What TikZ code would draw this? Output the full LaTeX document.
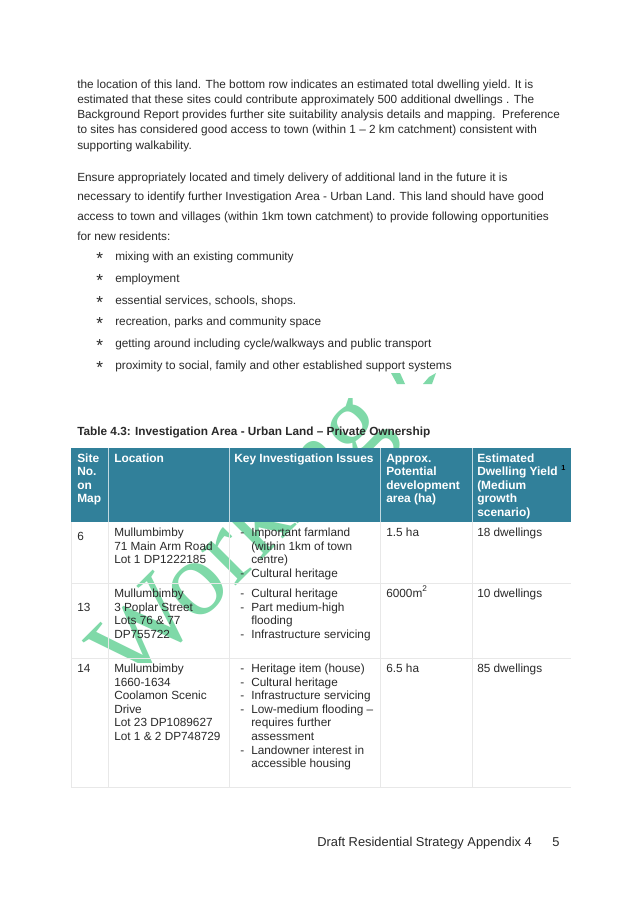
\documentclass[tikz,border=0pt]{standalone}
\usepackage{fontspec}
\setmainfont{Liberation Sans}
\newfontfamily\wmfont{Liberation Serif}
\definecolor{hdr}{HTML}{31809A}
\definecolor{ink}{HTML}{2A2A2A}
\definecolor{grid}{HTML}{E8E8E8}
\definecolor{wm}{HTML}{7FD9A8}
\tikzset{
 px/.style={x=0.75pt,y=-0.75pt},
 body/.style={anchor=base west,inner sep=0pt,font=\fontsize{8.85pt}{9pt}\selectfont,text=ink},
 cell/.style={anchor=base west,inner sep=0pt,font=\fontsize{8.85pt}{9pt}\selectfont,text=ink},
 head/.style={anchor=base west,inner sep=0pt,font=\fontsize{8.95pt}{9pt}\selectfont\bfseries,text=white},
 captiontext/.style={anchor=base west,inner sep=0pt,font=\fontsize{8.85pt}{9pt}\selectfont\bfseries,text=ink},
 foot/.style={anchor=base west,inner sep=0pt,font=\fontsize{9.65pt}{10pt}\selectfont,text=ink},
 starmark/.style={anchor=base west,inner sep=0pt,font=\fontsize{13pt}{13pt}\selectfont,text=ink},
 gridline/.style={draw=grid,line width=0.6pt},
 hline/.style={draw=white!70!hdr,line width=0.6pt},
 wmark/.style={inner sep=0pt,text=wm,font=\wmfont\fontsize{80pt}{80pt}\selectfont}
}
\begin{document}
\begin{tikzpicture}[px]
\useasboundingbox (0,0) rectangle (637,902);
\fill[white] (0,0) rectangle (637,902);
\begin{scope}
\clip (0,398) rectangle (637,662);
\node[wmark,rotate=45,anchor=base west] (wm) at (131,691) {Working};
\end{scope}
\fill[wm] (391,373) -- (400,373) -- (405,384) -- (397,384) -- cycle;
\fill[wm] (423,384) -- (429,377) -- (436,373) -- (432,384) -- cycle;
\fill[hdr] (71,448) rectangle (571,522);
\foreach \x in {108,229,380,472}{\draw[hline] (\x,448) -- (\x,522);}
\draw[gridline] (71,583.5) -- (571,583.5);
\draw[gridline] (71,658) -- (571,658);
\draw[gridline] (71,787) -- (571,787);
\draw[gridline] (71,522) -- (71,787);
\foreach \x in {108,229,380,472}{\draw[gridline] (\x,522) -- (\x,787);}
% paragraphs
\node[body] (p1) at (77,89) {the location of this land. The bottom row indicates an estimated total dwelling yield. It is};
\node[body] (p2) at (77,104) {estimated that these sites could contribute approximately 500 additional dwellings . The};
\node[body] (p3) at (77,119) {Background Report provides further site suitability analysis details and mapping.\ \ Preference};
\node[body] (p4) at (77,134) {to sites has considered good access to town (within 1 -- 2 km catchment) consistent with};
\node[body] (p5) at (77,150) {supporting walkability.};
\node[body] (q1) at (77,182) {Ensure appropriately located and timely delivery of additional land in the future it is};
\node[body] (q2) at (77,201) {necessary to identify further Investigation Area - Urban Land. This land should have good};
\node[body] (q3) at (77,220) {access to town and villages (within 1km town catchment) to provide following opportunities};
\node[body] (q4) at (77,240) {for new residents:};
\foreach \y in {260,282,304,325,347,369}{\node[starmark] at (96,\y+4) {*};}
\node[body] at (115,260) {mixing with an existing community};
\node[body] at (115,282) {employment};
\node[body] at (115,304) {essential services, schools, shops.};
\node[body] at (115,325) {recreation, parks and community space};
\node[body] at (115,347) {getting around including cycle/walkways and public transport};
\node[body] at (115,369) {proximity to social, family and other established support systems};
\node[captiontext] (captionline) at (77,435) {Table 4.3: Investigation Area - Urban Land -- Private Ownership};
% header
\node[head] at (77,462) {Site}; \node[head] at (77,475) {No.}; \node[head] at (77,489) {on}; \node[head] at (77,502) {Map};
\node[head] at (114,462) {Location};
\node[head] at (234,462) {Key Investigation Issues};
\node[head] at (386,462) {Approx.}; \node[head] at (386,475) {Potential}; \node[head] at (386,489) {development}; \node[head] at (386,502) {area (ha)};
\node[head] at (477,462) {Estimated}; \node[head] at (477,475) {Dwelling Yield}; \node[head] at (477,489) {(Medium}; \node[head] at (477,502) {growth}; \node[head] at (477,516) {scenario)};
\node[anchor=base west,inner sep=0pt,text=black,font=\fontsize{5.5pt}{6pt}\selectfont\bfseries] at (561,470) {1};
% row 6
\node[cell] at (77,540) {6};
\node[cell] at (114,536) {Mullumbimby}; \node[cell] at (114,550) {71 Main Arm Road}; \node[cell] at (114,563) {Lot 1 DP1222185};
\node[cell] at (240,536) {-}; \node[cell] at (251,536) {Important farmland};
\node[cell] at (251,550) {(within 1km of town}; \node[cell] at (251,563) {centre)};
\node[cell] at (240,577) {-}; \node[cell] at (251,577) {Cultural heritage};
\node[cell] at (386,536) {1.5 ha};
\node[cell] at (477,536) {18 dwellings};
% row 13
\node[cell] at (77,611) {13};
\node[cell] at (114,597) {Mullumbimby}; \node[cell] at (114,611) {3 Poplar Street}; \node[cell] at (114,624) {Lots 76 \& 77}; \node[cell] at (114,638) {DP755722};
\node[cell] at (240,597) {-}; \node[cell] at (251,597) {Cultural heritage};
\node[cell] at (240,611) {-}; \node[cell] at (251,611) {Part medium-high};
\node[cell] at (251,624) {flooding};
\node[cell] at (240,638) {-}; \node[cell] at (251,638) {Infrastructure servicing};
\node[cell] at (386,597) {6000m\textsuperscript{2}};
\node[cell] at (477,597) {10 dwellings};
% row 14
\node[cell] at (77,672) {14};
\foreach \y/\t in {672/Mullumbimby,686/1660-1634,699/Coolamon Scenic,713/Drive,726/Lot 23 DP1089627,740/Lot 1 \& 2 DP748729}{\node[cell] at (114,\y) {\t};}
\foreach \y/\t in {672/Heritage item (house),686/Cultural heritage,699/Infrastructure servicing,713/Low-medium flooding --,740/assessment,726/requires further,754/Landowner interest in,767/accessible housing}{\node[cell] at (251,\y) {\t};}
\foreach \y in {672,686,699,713,754}{\node[cell] at (240,\y) {-};}
\node[cell] at (386,672) {6.5 ha};
\node[cell] at (477,672) {85 dwellings};
% footer
\node[foot] (f1) at (317,846) {Draft Residential Strategy Appendix 4};
\node[foot] (f2) at (552,846) {5};
\end{tikzpicture}
\end{document}
